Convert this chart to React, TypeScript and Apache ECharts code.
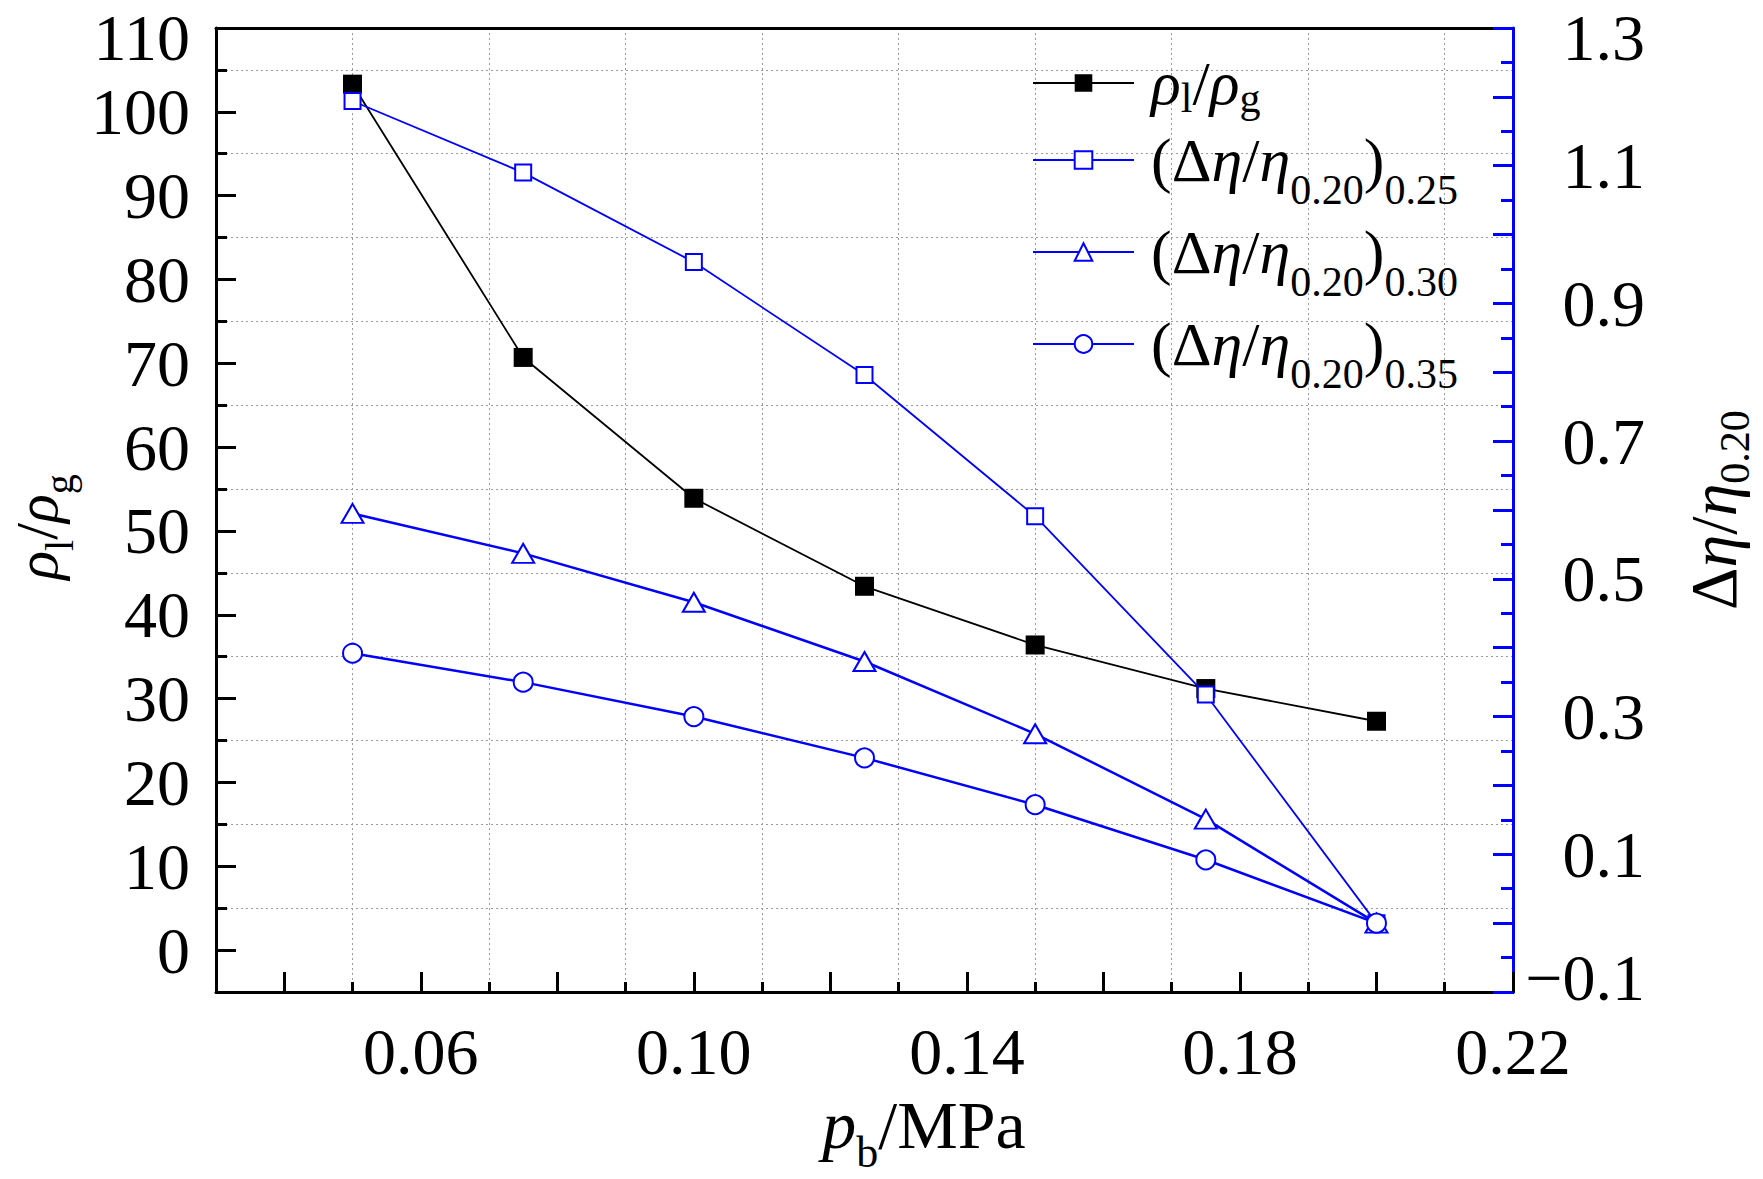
import React, { useEffect, useRef } from 'react';
import * as echarts from 'echarts';

// ---------- data ----------
const pressure = [0.05, 0.075, 0.1, 0.125, 0.15, 0.175, 0.2];
const densityRatio = [103.3, 70.7, 53.9, 43.4, 36.4, 31.2, 27.3];
const etaRatio025 = [1.194, 1.09, 0.96, 0.796, 0.591, 0.332, 0.0];
const etaRatio030 = [0.595, 0.537, 0.466, 0.38, 0.275, 0.151, 0.0];
const etaRatio035 = [0.392, 0.35, 0.3, 0.24, 0.172, 0.092, 0.0];

const xMajorTicks = [0.04, 0.06, 0.08, 0.1, 0.12, 0.14, 0.16, 0.18, 0.2, 0.22];
const xTickLabels = [0.06, 0.1, 0.14, 0.18, 0.22];
const yLeftTicks = [0, 10, 20, 30, 40, 50, 60, 70, 80, 90, 100, 110];

const seriesNames = ['ρl/ρg', '(Δη/η0.20)0.25', '(Δη/η0.20)0.30', '(Δη/η0.20)0.35'];
const legendLabels = [
  '{gi|ρ}{r|l}{g|/}{gi|ρ}{r|g}',
  '{g|(Δ}{gi|η}{g|/}{gi|η}{s|0.20}{g|)}{s|0.25}',
  '{g|(Δ}{gi|η}{g|/}{gi|η}{s|0.20}{g|)}{s|0.30}',
  '{g|(Δ}{gi|η}{g|/}{gi|η}{s|0.20}{g|)}{s|0.35}',
];

const FONT = "'Liberation Serif', 'Times New Roman', serif";
const BLUE = '#0000ff';
const GRID_COLOR = '#9a9a9a';

export default function App() {
  const ref = useRef<HTMLDivElement>(null);

  useEffect(() => {
    if (!ref.current) return;
    const chart = echarts.init(ref.current, null, { renderer: 'svg' });

    const pairs = (ys: number[]) => pressure.map((x, i) => [x, ys[i]]);

    // subscript token: small inner height + top padding pushes it below the baseline
    const subStyle = (size: number, inner: number, pad: number) => ({
      fontFamily: FONT,
      fontSize: size,
      height: inner,
      lineHeight: 70,
      padding: [pad, 0, 0, 0],
      color: '#000',
    });

    const legendRich = {
      g: { fontFamily: FONT, fontSize: 62, lineHeight: 70, color: '#000' },
      gi: { fontFamily: FONT, fontSize: 62, lineHeight: 70, fontStyle: 'italic', color: '#000' },
      r: subStyle(42, 40, 30),
      s: subStyle(42, 10, 60),
    };

    const nameRich = (main: number, sub: number, subInner: number, subPad: number) => ({
      i: { fontFamily: FONT, fontSize: main, lineHeight: 70, fontStyle: 'italic', color: '#000' },
      n: { fontFamily: FONT, fontSize: main, lineHeight: 70, color: '#000' },
      s: subStyle(sub, subInner, subPad),
    });

    const tickLabelRich = {
      t: { fontFamily: FONT, fontSize: 66, lineHeight: 50, padding: [18, 0, 0, 0], color: '#000' },
      m: { fontFamily: FONT, fontSize: 66, lineHeight: 50, padding: [0, 0, 30, 0], color: '#000' },
    };

    const option: any = {
      animation: false,
      backgroundColor: '#ffffff',
      grid: {
        left: 216,
        right: 250,
        top: 28,
        bottom: 187,
        containLabel: false,
        outerBoundsMode: 'none',
      },
      legend: {
        orient: 'vertical',
        left: 1027,
        top: 43,
        padding: 5,
        itemWidth: 101,
        itemHeight: 22,
        itemGap: 6,
        selectedMode: false,
        data: seriesNames,
        formatter: (name: string) => legendLabels[seriesNames.indexOf(name)],
        textStyle: {
          fontFamily: FONT,
          fontSize: 62,
          color: '#000',
          padding: [0, 0, 0, 12],
          rich: legendRich,
        },
      },
      xAxis: [
        {
          type: 'value',
          position: 'bottom',
          min: 0.03,
          max: 0.22,
          axisLine: { show: true, onZero: false, lineStyle: { color: '#000', width: 3 } },
          axisTick: {
            show: true,
            inside: true,
            length: 20,
            customValues: xMajorTicks,
            lineStyle: { color: '#000', width: 3 },
          },
          axisLabel: {
            show: true,
            customValues: xTickLabels,
            formatter: (v: number) => v.toFixed(2),
            fontFamily: FONT,
            fontSize: 66,
            lineHeight: 50,
            color: '#000',
            margin: 34,
          },
          splitLine: { show: false },
          name: '{i|p}{s|b}{n|/MPa}',
          nameLocation: 'middle',
          nameGap: 98,
          nameMoveOverlap: false,
          nameTextStyle: {
            fontFamily: FONT,
            fontSize: 68,
            color: '#000',
            padding: [0, 0, 0, 119],
            rich: nameRich(68, 44, 12, 54),
          },
        },
        {
          type: 'value',
          position: 'bottom',
          min: 0.03,
          max: 0.22,
          interval: 0.02,
          axisLine: { show: false, onZero: false },
          axisTick: { show: true, inside: true, length: 10, lineStyle: { color: '#000', width: 3 } },
          axisLabel: { show: false },
          splitLine: { show: true, lineStyle: { color: GRID_COLOR, width: 1, type: [2, 3] } },
        },
        {
          type: 'value',
          position: 'top',
          min: 0.03,
          max: 0.22,
          axisLine: { show: true, onZero: false, lineStyle: { color: '#000', width: 3 } },
          axisTick: { show: false },
          axisLabel: { show: false },
          splitLine: { show: false },
        },
      ],
      yAxis: [
        {
          type: 'value',
          position: 'left',
          min: -5,
          max: 110,
          axisLine: { show: true, onZero: false, lineStyle: { color: '#000', width: 3 } },
          axisTick: {
            show: true,
            inside: true,
            length: 20,
            customValues: yLeftTicks,
            lineStyle: { color: '#000', width: 3 },
          },
          axisLabel: {
            show: true,
            customValues: yLeftTicks,
            fontFamily: FONT,
            fontSize: 66,
            lineHeight: 50,
            color: '#000',
            margin: 26,
            formatter: (v: number) => (v >= 110 ? '{t|' + v + '}' : String(v)),
            rich: tickLabelRich,
          },
          splitLine: { show: false },
          name: '{i|ρ}{s|l}{n|/}{i|ρ}{s|g}',
          nameLocation: 'middle',
          nameRotate: 90,
          nameGap: 144,
          nameMoveOverlap: false,
          nameTextStyle: {
            fontFamily: FONT,
            fontSize: 60,
            color: '#000',
            padding: [0, 34, 0, 0],
            rich: nameRich(60, 40, 20, 44),
          },
        },
        {
          type: 'value',
          position: 'left',
          min: -5,
          max: 110,
          interval: 10,
          axisLine: { show: false, onZero: false },
          axisTick: { show: true, inside: true, length: 11, lineStyle: { color: '#000', width: 3 } },
          axisLabel: { show: false },
          splitLine: { show: true, lineStyle: { color: GRID_COLOR, width: 1, type: [2, 3] } },
        },
        {
          type: 'value',
          position: 'right',
          min: -0.1,
          max: 1.3,
          interval: 0.1,
          axisLine: { show: true, onZero: false, lineStyle: { color: BLUE, width: 3 } },
          axisTick: { show: true, inside: true, length: 20, lineStyle: { color: BLUE, width: 3 } },
          minorTick: { show: true, splitNumber: 2, length: 12, lineStyle: { color: BLUE, width: 3 } },
          axisLabel: {
            show: true,
            showMinLabel: true,
            showMaxLabel: true,
            align: 'right',
            margin: 132,
            fontFamily: FONT,
            fontSize: 66,
            lineHeight: 50,
            color: '#000',
            rich: tickLabelRich,
            formatter: (v: number) => {
              const k = Math.round(v * 10);
              if (Math.abs(k) % 2 !== 1) return '';
              const s = Math.abs(v).toFixed(1);
              if (k >= 13) return '{t|' + s + '}';
              if (k < 0) return '{m|\u2212' + s + '}';
              return s;
            },
          },
          splitLine: { show: false },
          minorSplitLine: { show: false },
          name: '{n|Δ}{i|η}{n|/}{i|η}{s|0.20}',
          nameLocation: 'middle',
          nameRotate: 90,
          nameGap: 165,
          nameMoveOverlap: false,
          nameTextStyle: {
            fontFamily: FONT,
            fontSize: 66,
            color: '#000',
            rich: nameRich(66, 42, 26, 44),
          },
        },
      ],
      series: [
        {
          name: seriesNames[0],
          type: 'line',
          xAxisIndex: 0,
          yAxisIndex: 0,
          data: pairs(densityRatio),
          symbol: 'rect',
          symbolSize: 19,
          lineStyle: { color: '#000', width: 1.8 },
          itemStyle: { color: '#000' },
          z: 3,
        },
        {
          name: seriesNames[1],
          type: 'line',
          xAxisIndex: 0,
          yAxisIndex: 2,
          data: pairs(etaRatio025),
          symbol: 'emptyRect',
          symbolSize: 16,
          lineStyle: { color: BLUE, width: 1.8 },
          itemStyle: { color: BLUE, borderWidth: 1.5 },
          z: 4,
        },
        {
          name: seriesNames[2],
          type: 'line',
          xAxisIndex: 0,
          yAxisIndex: 2,
          data: pairs(etaRatio030),
          symbol: 'emptyTriangle',
          symbolSize: [22, 19],
          lineStyle: { color: BLUE, width: 2.5 },
          itemStyle: { color: BLUE, borderWidth: 1.5 },
          z: 4,
        },
        {
          name: seriesNames[3],
          type: 'line',
          xAxisIndex: 0,
          yAxisIndex: 2,
          data: pairs(etaRatio035),
          symbol: 'emptyCircle',
          symbolSize: 19,
          lineStyle: { color: BLUE, width: 2.5 },
          itemStyle: { color: BLUE, borderWidth: 1.5 },
          z: 4,
        },
      ],
    };

    chart.setOption(option);
    return () => {
      chart.dispose();
    };
  }, []);

  return (
    <div
      ref={ref}
      style={{ position: 'fixed', left: 0, top: 0, width: 1763, height: 1179, background: '#fff' }}
    />
  );
}
